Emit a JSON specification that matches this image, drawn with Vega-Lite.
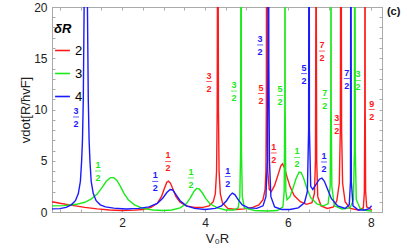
{
  "$schema": "https://vega.github.io/schema/vega-lite/v6.json",
  "width": 330,
  "height": 205,
  "autosize": "none",
  "padding": {"left": 52, "top": 7, "right": 25, "bottom": 37},
  "config": {
    "font": "Liberation Sans",
    "view": {"stroke": "#aaaaaa", "strokeWidth": 1},
    "axis": {"domainColor": "#aaaaaa", "tickColor": "#aaaaaa", "grid": false, "labelFontSize": 12, "labelColor": "#222222", "titleFontSize": 13, "titleFontWeight": "normal", "titleColor": "#222222"}
  },
  "title": {"text": "(c)", "orient": "right", "anchor": "start", "angle": 0, "align": "left", "baseline": "top", "offset": 0, "dx": -9, "dy": 5, "fontSize": 11, "fontWeight": "bold", "color": "#111111"},
  "datasets": {
    "curves": [
      {"dR":"2","x":0.31,"y":1.0},{"dR":"2","x":0.5,"y":0.85},{"dR":"2","x":0.8,"y":0.65},{"dR":"2","x":1.1,"y":0.45},{"dR":"2","x":1.4,"y":0.3},{"dR":"2","x":1.7,"y":0.2},{"dR":"2","x":2.0,"y":0.15},{"dR":"2","x":2.3,"y":0.18},{"dR":"2","x":2.5,"y":0.25},{"dR":"2","x":2.7,"y":0.45},{"dR":"2","x":2.85,"y":0.85},{"dR":"2","x":2.95,"y":1.5},{"dR":"2","x":3.02,"y":2.3},{"dR":"2","x":3.08,"y":2.9},{"dR":"2","x":3.12,"y":3.0},{"dR":"2","x":3.17,"y":2.8},{"dR":"2","x":3.23,"y":2.2},{"dR":"2","x":3.3,"y":1.5},{"dR":"2","x":3.4,"y":0.95},{"dR":"2","x":3.55,"y":0.6},{"dR":"2","x":3.75,"y":0.45},{"dR":"2","x":3.95,"y":0.45},{"dR":"2","x":4.1,"y":0.6},{"dR":"2","x":4.2,"y":1.0},{"dR":"2","x":4.25,"y":1.8},{"dR":"2","x":4.28,"y":4},{"dR":"2","x":4.295,"y":10},{"dR":"2","x":4.305,"y":30},{"dR":"2","x":4.31,"y":45},{"dR":"2","x":4.315,"y":30},{"dR":"2","x":4.325,"y":10},{"dR":"2","x":4.34,"y":4},{"dR":"2","x":4.37,"y":1.8},{"dR":"2","x":4.42,"y":0.9},{"dR":"2","x":4.55,"y":0.35},{"dR":"2","x":4.75,"y":0.25},{"dR":"2","x":4.95,"y":0.3},{"dR":"2","x":5.15,"y":0.45},{"dR":"2","x":5.3,"y":0.7},{"dR":"2","x":5.4,"y":1.2},{"dR":"2","x":5.45,"y":2.2},{"dR":"2","x":5.47,"y":4},{"dR":"2","x":5.48,"y":10},{"dR":"2","x":5.49,"y":40},{"dR":"2","x":5.5,"y":10},{"dR":"2","x":5.515,"y":4},{"dR":"2","x":5.55,"y":2.2},{"dR":"2","x":5.6,"y":2.0},{"dR":"2","x":5.68,"y":2.6},{"dR":"2","x":5.76,"y":3.6},{"dR":"2","x":5.83,"y":4.5},{"dR":"2","x":5.87,"y":4.7},{"dR":"2","x":5.92,"y":4.3},{"dR":"2","x":5.98,"y":3.4},{"dR":"2","x":6.05,"y":2.5},{"dR":"2","x":6.15,"y":1.6},{"dR":"2","x":6.3,"y":1.0},{"dR":"2","x":6.45,"y":0.75},{"dR":"2","x":6.58,"y":0.9},{"dR":"2","x":6.64,"y":1.8},{"dR":"2","x":6.665,"y":5},{"dR":"2","x":6.675,"y":20},{"dR":"2","x":6.68,"y":45},{"dR":"2","x":6.685,"y":20},{"dR":"2","x":6.695,"y":5},{"dR":"2","x":6.72,"y":1.5},{"dR":"2","x":6.8,"y":0.6},{"dR":"2","x":6.95,"y":0.35},{"dR":"2","x":7.1,"y":0.5},{"dR":"2","x":7.18,"y":1.1},{"dR":"2","x":7.24,"y":2.8},{"dR":"2","x":7.265,"y":8},{"dR":"2","x":7.28,"y":40},{"dR":"2","x":7.295,"y":8},{"dR":"2","x":7.32,"y":2.8},{"dR":"2","x":7.38,"y":1.0},{"dR":"2","x":7.5,"y":0.35},{"dR":"2","x":7.7,"y":0.2},{"dR":"2","x":7.82,"y":0.4},{"dR":"2","x":7.845,"y":2},{"dR":"2","x":7.855,"y":10},{"dR":"2","x":7.86,"y":45},{"dR":"2","x":7.865,"y":10},{"dR":"2","x":7.875,"y":2},{"dR":"2","x":7.9,"y":0.5},{"dR":"2","x":8.02,"y":0.2},
      {"dR":"3","x":0.31,"y":0.6},{"dR":"3","x":0.6,"y":0.62},{"dR":"3","x":0.9,"y":0.75},{"dR":"3","x":1.1,"y":0.95},{"dR":"3","x":1.25,"y":1.25},{"dR":"3","x":1.4,"y":1.75},{"dR":"3","x":1.52,"y":2.4},{"dR":"3","x":1.62,"y":3.0},{"dR":"3","x":1.72,"y":3.35},{"dR":"3","x":1.8,"y":3.35},{"dR":"3","x":1.88,"y":3.05},{"dR":"3","x":1.96,"y":2.5},{"dR":"3","x":2.05,"y":1.8},{"dR":"3","x":2.15,"y":1.2},{"dR":"3","x":2.3,"y":0.7},{"dR":"3","x":2.5,"y":0.35},{"dR":"3","x":2.75,"y":0.2},{"dR":"3","x":3.0,"y":0.15},{"dR":"3","x":3.2,"y":0.2},{"dR":"3","x":3.4,"y":0.4},{"dR":"3","x":3.55,"y":0.8},{"dR":"3","x":3.65,"y":1.4},{"dR":"3","x":3.74,"y":2.05},{"dR":"3","x":3.8,"y":2.3},{"dR":"3","x":3.86,"y":2.25},{"dR":"3","x":3.93,"y":1.9},{"dR":"3","x":4.02,"y":1.3},{"dR":"3","x":4.12,"y":0.8},{"dR":"3","x":4.3,"y":0.4},{"dR":"3","x":4.5,"y":0.2},{"dR":"3","x":4.7,"y":0.2},{"dR":"3","x":4.8,"y":0.4},{"dR":"3","x":4.84,"y":1.5},{"dR":"3","x":4.86,"y":6},{"dR":"3","x":4.87,"y":45},{"dR":"3","x":4.88,"y":6},{"dR":"3","x":4.9,"y":1.5},{"dR":"3","x":4.95,"y":0.4},{"dR":"3","x":5.2,"y":0.15},{"dR":"3","x":5.5,"y":0.1},{"dR":"3","x":5.75,"y":0.15},{"dR":"3","x":5.88,"y":0.5},{"dR":"3","x":5.91,"y":2},{"dR":"3","x":5.925,"y":10},{"dR":"3","x":5.93,"y":45},{"dR":"3","x":5.935,"y":10},{"dR":"3","x":5.95,"y":2},{"dR":"3","x":5.98,"y":1.2},{"dR":"3","x":6.05,"y":1.5},{"dR":"3","x":6.12,"y":2.3},{"dR":"3","x":6.2,"y":3.3},{"dR":"3","x":6.27,"y":3.9},{"dR":"3","x":6.32,"y":3.85},{"dR":"3","x":6.38,"y":3.3},{"dR":"3","x":6.45,"y":2.4},{"dR":"3","x":6.55,"y":1.4},{"dR":"3","x":6.7,"y":0.8},{"dR":"3","x":6.85,"y":0.6},{"dR":"3","x":6.97,"y":0.8},{"dR":"3","x":7.02,"y":2.5},{"dR":"3","x":7.035,"y":10},{"dR":"3","x":7.04,"y":45},{"dR":"3","x":7.045,"y":10},{"dR":"3","x":7.06,"y":2.5},{"dR":"3","x":7.12,"y":0.6},{"dR":"3","x":7.3,"y":0.3},{"dR":"3","x":7.5,"y":0.4},{"dR":"3","x":7.58,"y":1.2},{"dR":"3","x":7.605,"y":6},{"dR":"3","x":7.615,"y":45},{"dR":"3","x":7.625,"y":6},{"dR":"3","x":7.65,"y":1.2},{"dR":"3","x":7.75,"y":0.3},{"dR":"3","x":7.9,"y":0.15},{"dR":"3","x":8.02,"y":0.1},
      {"dR":"4","x":0.31,"y":0.3},{"dR":"4","x":0.5,"y":0.33},{"dR":"4","x":0.65,"y":0.45},{"dR":"4","x":0.775,"y":0.7},{"dR":"4","x":0.875,"y":1.1},{"dR":"4","x":0.945,"y":1.8},{"dR":"4","x":0.995,"y":3},{"dR":"4","x":1.025,"y":5},{"dR":"4","x":1.045,"y":7},{"dR":"4","x":1.065,"y":11},{"dR":"4","x":1.085,"y":20},{"dR":"4","x":1.105,"y":30},{"dR":"4","x":1.125,"y":40},{"dR":"4","x":1.145,"y":30},{"dR":"4","x":1.165,"y":20},{"dR":"4","x":1.185,"y":11},{"dR":"4","x":1.205,"y":7},{"dR":"4","x":1.225,"y":5},{"dR":"4","x":1.255,"y":3},{"dR":"4","x":1.305,"y":1.8},{"dR":"4","x":1.375,"y":1.1},{"dR":"4","x":1.475,"y":0.7},{"dR":"4","x":1.6,"y":0.5},{"dR":"4","x":1.8,"y":0.38},{"dR":"4","x":2.1,"y":0.3},{"dR":"4","x":2.4,"y":0.35},{"dR":"4","x":2.65,"y":0.5},{"dR":"4","x":2.85,"y":0.85},{"dR":"4","x":2.98,"y":1.35},{"dR":"4","x":3.08,"y":1.9},{"dR":"4","x":3.16,"y":2.2},{"dR":"4","x":3.22,"y":2.15},{"dR":"4","x":3.3,"y":1.7},{"dR":"4","x":3.4,"y":1.1},{"dR":"4","x":3.55,"y":0.6},{"dR":"4","x":3.75,"y":0.35},{"dR":"4","x":4.0,"y":0.25},{"dR":"4","x":4.25,"y":0.35},{"dR":"4","x":4.4,"y":0.6},{"dR":"4","x":4.52,"y":1.1},{"dR":"4","x":4.6,"y":1.6},{"dR":"4","x":4.66,"y":1.85},{"dR":"4","x":4.72,"y":1.7},{"dR":"4","x":4.8,"y":1.2},{"dR":"4","x":4.9,"y":0.7},{"dR":"4","x":5.05,"y":0.4},{"dR":"4","x":5.25,"y":0.35},{"dR":"4","x":5.4,"y":0.6},{"dR":"4","x":5.47,"y":1.5},{"dR":"4","x":5.505,"y":5},{"dR":"4","x":5.52,"y":15},{"dR":"4","x":5.53,"y":45},{"dR":"4","x":5.54,"y":15},{"dR":"4","x":5.555,"y":5},{"dR":"4","x":5.59,"y":1.5},{"dR":"4","x":5.68,"y":0.5},{"dR":"4","x":5.85,"y":0.25},{"dR":"4","x":6.05,"y":0.25},{"dR":"4","x":6.25,"y":0.4},{"dR":"4","x":6.4,"y":0.9},{"dR":"4","x":6.47,"y":2},{"dR":"4","x":6.5,"y":8},{"dR":"4","x":6.51,"y":45},{"dR":"4","x":6.52,"y":8},{"dR":"4","x":6.55,"y":2.5},{"dR":"4","x":6.6,"y":2.2},{"dR":"4","x":6.68,"y":2.7},{"dR":"4","x":6.76,"y":3.2},{"dR":"4","x":6.82,"y":3.3},{"dR":"4","x":6.88,"y":3.0},{"dR":"4","x":6.96,"y":2.2},{"dR":"4","x":7.05,"y":1.3},{"dR":"4","x":7.2,"y":0.6},{"dR":"4","x":7.38,"y":0.35},{"dR":"4","x":7.48,"y":0.7},{"dR":"4","x":7.51,"y":3},{"dR":"4","x":7.52,"y":45},{"dR":"4","x":7.53,"y":3},{"dR":"4","x":7.57,"y":0.6},{"dR":"4","x":7.7,"y":0.2},{"dR":"4","x":7.85,"y":0.2},{"dR":"4","x":7.95,"y":0.3},{"dR":"4","x":8.02,"y":0.6}
    ],
    "labels": [
      {"dR":"4","num":"3","den":"2","x":0.89,"y":9.27},
      {"dR":"2","num":"3","den":"2","x":4.10,"y":12.73},
      {"dR":"3","num":"3","den":"2","x":4.70,"y":11.8},
      {"dR":"2","num":"5","den":"2","x":5.35,"y":11.56},
      {"dR":"4","num":"3","den":"2","x":5.33,"y":16.3},
      {"dR":"3","num":"5","den":"2","x":5.81,"y":11.37},
      {"dR":"4","num":"5","den":"2","x":6.39,"y":13.5},
      {"dR":"2","num":"7","den":"2","x":6.82,"y":15.7},
      {"dR":"3","num":"7","den":"2","x":6.89,"y":11.07},
      {"dR":"2","num":"3","den":"2","x":7.18,"y":8.54},
      {"dR":"4","num":"7","den":"2","x":7.42,"y":13.02},
      {"dR":"3","num":"3","den":"2","x":7.69,"y":12.83},
      {"dR":"2","num":"9","den":"2","x":8.02,"y":10.0},
      {"dR":"3","num":"1","den":"2","x":1.42,"y":4.0},
      {"dR":"4","num":"1","den":"2","x":2.80,"y":2.98},
      {"dR":"2","num":"1","den":"2","x":3.11,"y":4.93},
      {"dR":"3","num":"1","den":"2","x":3.66,"y":3.32},
      {"dR":"4","num":"1","den":"2","x":4.55,"y":3.46},
      {"dR":"2","num":"1","den":"2","x":5.66,"y":5.76},
      {"dR":"3","num":"1","den":"2","x":6.22,"y":5.32},
      {"dR":"4","num":"1","den":"2","x":6.87,"y":4.88}
    ]
  },
  "resolve": {"axis": {"x": "independent", "y": "independent"}},
  "layer": [
    {
      "data": {"name": "curves"},
      "mark": {"type": "line", "clip": true, "strokeWidth": 1.4},
      "encoding": {
        "x": {"field": "x", "type": "quantitative", "scale": {"domain": [0.31, 8.27], "nice": false, "zero": false},
              "axis": {"title": "V₀R", "values": [0.5,1,1.5,2,2.5,3,3.5,4,4.5,5,5.5,6,6.5,7,7.5,8], "labelExpr": "datum.value % 2 == 0 ? format(datum.value, 'd') : ''", "tickSize": -3, "labelPadding": 8, "titlePadding": 4}},
        "y": {"field": "y", "type": "quantitative", "scale": {"domain": [0, 20], "nice": false},
              "axis": {"title": "vdot[R/ħvF]", "values": [0,1,2,3,4,5,6,7,8,9,10,11,12,13,14,15,16,17,18,19,20], "labelExpr": "datum.value % 5 == 0 ? datum.label : ''", "tickSize": -3, "labelPadding": 8, "titlePadding": 1}},
        "color": {"field": "dR", "type": "nominal", "scale": {"domain": ["2", "3", "4"], "range": ["#ff1a1a", "#1aea1a", "#1a1aff"]},
                  "legend": {"title": "δR", "orient": "none", "legendX": 2, "legendY": 16, "padding": 0, "symbolType": "stroke", "symbolSize": 220, "symbolStrokeWidth": 1.6, "titleFontSize": 13, "titleFontStyle": "italic", "titleFontWeight": "bold", "labelFontSize": 13, "rowPadding": 7, "titlePadding": 6}}
      }
    },
    {
      "data": {"name": "labels"},
      "mark": {"type": "text", "fontSize": 9, "fontWeight": "bold", "dy": -6, "baseline": "middle"},
      "encoding": {
        "x": {"field": "x", "type": "quantitative", "axis": null},
        "y": {"field": "y", "type": "quantitative", "axis": null},
        "text": {"field": "num"},
        "color": {"field": "dR", "type": "nominal", "legend": null}
      }
    },
    {
      "data": {"name": "labels"},
      "mark": {"type": "text", "fontSize": 9, "fontWeight": "bold", "dy": 7, "baseline": "middle"},
      "encoding": {
        "x": {"field": "x", "type": "quantitative", "axis": null},
        "y": {"field": "y", "type": "quantitative", "axis": null},
        "text": {"field": "den"},
        "color": {"field": "dR", "type": "nominal", "legend": null}
      }
    },
    {
      "data": {"name": "labels"},
      "mark": {"type": "tick", "orient": "horizontal", "size": 6, "thickness": 1},
      "encoding": {
        "x": {"field": "x", "type": "quantitative", "axis": {"orient": "top", "title": null, "labels": false, "values": [0.5,1,1.5,2,2.5,3,3.5,4,4.5,5,5.5,6,6.5,7,7.5,8], "tickSize": -3}},
        "y": {"field": "y", "type": "quantitative", "axis": {"orient": "right", "title": null, "labels": false, "values": [0,1,2,3,4,5,6,7,8,9,10,11,12,13,14,15,16,17,18,19,20], "tickSize": -3}},
        "color": {"field": "dR", "type": "nominal", "legend": null}
      }
    }
  ]
}
